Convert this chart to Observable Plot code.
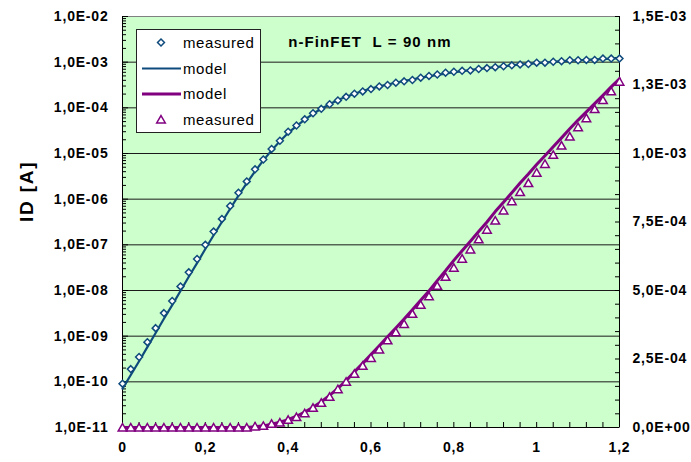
<!DOCTYPE html>
<html><head><meta charset="utf-8">
<script src="https://cdn.jsdelivr.net/npm/d3@7"></script>
<script src="https://cdn.jsdelivr.net/npm/@observablehq/plot@0.6"></script>
<style>
body{margin:0;background:#fff;}
</style></head><body><div id="chart"></div>
<script>
// Gate voltage (V)
const vg = [0,0.02,0.04,0.06,0.08,0.1,0.12,0.14,0.16,0.18,0.2,0.22,0.24,0.26,0.28,0.3,0.32,0.34,0.36,0.38,0.4,0.42,0.44,0.46,0.48,0.5,0.52,0.54,0.56,0.58,0.6,0.62,0.64,0.66,0.68,0.7,0.72,0.74,0.76,0.78,0.8,0.82,0.84,0.86,0.88,0.9,0.92,0.94,0.96,0.98,1,1.02,1.04,1.06,1.08,1.1,1.12,1.14,1.16,1.18,1.2];
// Log-axis series (A)
const blueMeasured = [9.1e-11,1.9e-10,3.5e-10,7.4e-10,1.5e-9,3.2e-9,5.9e-9,1.23e-8,2.5e-8,4.9e-8,1.0e-7,1.95e-7,3.7e-7,7.1e-7,1.38e-6,2.45e-6,4.5e-6,7.4e-6,1.26e-5,1.9e-5,3.0e-5,4.1e-5,5.6e-5,7.6e-5,9.5e-5,1.2e-4,1.45e-4,1.74e-4,2.04e-4,2.29e-4,2.57e-4,2.95e-4,3.16e-4,3.55e-4,3.8e-4,4.07e-4,4.57e-4,5.0e-4,5.37e-4,5.89e-4,6.17e-4,6.46e-4,6.6e-4,7.08e-4,7.41e-4,7.76e-4,8.13e-4,8.51e-4,8.91e-4,9.12e-4,9.77e-4,9.77e-4,1.02e-3,1.05e-3,1.10e-3,1.10e-3,1.12e-3,1.12e-3,1.20e-3,1.20e-3,1.20e-3];
const blueModel = [7.1e-11,1.41e-10,2.82e-10,5.75e-10,1.17e-9,2.40e-9,4.79e-9,9.77e-9,2.0e-8,3.98e-8,8.13e-8,1.62e-7,3.16e-7,6.17e-7,1.20e-6,2.24e-6,4.07e-6,7.08e-6,1.17e-5,1.86e-5,2.82e-5,3.98e-5,5.50e-5,7.41e-5,9.55e-5,1.20e-4,1.48e-4,1.74e-4,2.04e-4,2.34e-4,2.63e-4,2.95e-4,3.24e-4,3.55e-4,3.89e-4,4.17e-4,4.57e-4,4.90e-4,5.25e-4,5.62e-4,6.03e-4,6.31e-4,6.76e-4,7.08e-4,7.41e-4,7.76e-4,8.13e-4,8.51e-4,8.91e-4,9.12e-4,9.55e-4,9.77e-4,1.02e-3,1.05e-3,1.07e-3,1.10e-3,1.12e-3,1.15e-3,1.17e-3,1.20e-3,1.23e-3];
// Linear-axis series (A)
const purpleMeasured = [0,0,0,0,0,0,0,0,0,0,0,0,0,0,0,0,0.004e-3,0.006e-3,0.0135e-3,0.018e-3,0.028e-3,0.038e-3,0.052e-3,0.072e-3,0.090e-3,0.112e-3,0.140e-3,0.167e-3,0.196e-3,0.225e-3,0.254e-3,0.285e-3,0.318e-3,0.348e-3,0.378e-3,0.415e-3,0.448e-3,0.479e-3,0.517e-3,0.550e-3,0.583e-3,0.616e-3,0.650e-3,0.687e-3,0.722e-3,0.755e-3,0.792e-3,0.826e-3,0.859e-3,0.892e-3,0.930e-3,0.962e-3,0.995e-3,1.029e-3,1.062e-3,1.096e-3,1.129e-3,1.162e-3,1.195e-3,1.227e-3,1.262e-3];
const purpleModel = [0,0,0,0,0,0,0,0,0,0,0,0,0,0,0,0,0.003e-3,0.006e-3,0.012e-3,0.019e-3,0.029e-3,0.041e-3,0.056e-3,0.074e-3,0.094e-3,0.117e-3,0.143e-3,0.171e-3,0.203e-3,0.234e-3,0.266e-3,0.298e-3,0.331e-3,0.363e-3,0.396e-3,0.430e-3,0.464e-3,0.498e-3,0.536e-3,0.572e-3,0.610e-3,0.645e-3,0.680e-3,0.715e-3,0.750e-3,0.788e-3,0.822e-3,0.857e-3,0.892e-3,0.925e-3,0.960e-3,0.992e-3,1.025e-3,1.057e-3,1.090e-3,1.122e-3,1.152e-3,1.182e-3,1.212e-3,1.243e-3,1.273e-3];

const leftTicks = [1e-11,1e-10,1e-9,1e-8,1e-7,1e-6,1e-5,1e-4,1e-3,1e-2];
const leftTickLabels = ["1,0E-11","1,0E-10","1,0E-09","1,0E-08","1,0E-07","1,0E-06","1,0E-05","1,0E-04","1,0E-03","1,0E-02"];
const rightTicks = [0,2.5e-4,5e-4,7.5e-4,1e-3,1.25e-3,1.5e-3];
const rightTickLabels = ["0,0E+00","2,5E-04","5,0E-04","7,5E-04","1,0E-03","1,3E-03","1,5E-03"];
const xTicks = [0,0.2,0.4,0.6,0.8,1,1.2];
const xTickLabels = ["0","0,2","0,4","0,6","0,8","1","1,2"];
const titleText = "n-FinFET  L = 90 nm";
const yLabelText = "ID [A]";
const legendLabels = ["measured","model","model","measured"];

const BLUE = "#0f4a7c", PURPLE = "#800080";
const RMAX = 1.5e-3, LOGMIN = -11, LOGSPAN = 9;
// map right (linear) axis values into the left (log) scale
const toLeft = v => Math.pow(10, LOGMIN + LOGSPAN * v / RMAX);

const blueMeasRows = vg.map((x, i) => ({x, y: blueMeasured[i]}));
const blueModelRows = vg.map((x, i) => ({x, y: blueModel[i]}));
const purpMeasRows = vg.map((x, i) => ({x, y: toLeft(purpleMeasured[i])}));
const purpModelRows = vg.map((x, i) => ({x, y: toLeft(purpleModel[i])}));

const leftMinor = [];
for (let d = -11; d < -2; d++) for (let k = 2; k <= 9; k++) leftMinor.push(k * Math.pow(10, d));
const rightMinor = d3.range(0, 31).map(i => toLeft(i * 5e-5));
const xMinor = d3.range(0, 31).map(i => i * 0.04);

const W = 691, H = 462, ML = 122, MR = 72, MT = 16, MB = 35;
const PW = W - ML - MR, PH = H - MT - MB;

function legendMark() {
  const g = d3.create("svg:g");
  g.append("rect").attr("x", 136.5).attr("y", 29.5).attr("width", 124).attr("height", 103)
    .attr("fill", "white").attr("stroke", "#222").attr("stroke-width", 1);
  const rows = [42.5, 68.5, 94, 119.5];
  g.append("path").attr("d", d3.symbol(d3.symbolDiamond2, Math.PI * 3.1 * 3.1)())
    .attr("transform", `translate(161,${rows[0]})`).attr("fill", "white").attr("stroke", BLUE).attr("stroke-width", 1.5);
  g.append("line").attr("x1", 142).attr("x2", 181).attr("y1", rows[1]).attr("y2", rows[1]).attr("stroke", BLUE).attr("stroke-width", 2.2);
  g.append("line").attr("x1", 142).attr("x2", 181).attr("y1", rows[2]).attr("y2", rows[2]).attr("stroke", PURPLE).attr("stroke-width", 3);
  g.append("path").attr("d", d3.symbol(d3.symbolTriangle, Math.PI * 3.2 * 3.2)())
    .attr("transform", `translate(161,${rows[3] + 1})`).attr("fill", "white").attr("stroke", PURPLE).attr("stroke-width", 1.5);
  legendLabels.forEach((t, i) => {
    g.append("text").attr("x", 183).attr("y", rows[i]).attr("dy", "0.35em")
      .attr("text-anchor", "start")
      .attr("font-size", 15).attr("fill", "#000").attr("class", "lg").text(t);
  });
  return g.node();
}

const chart = Plot.plot({
  width: W, height: H,
  marginLeft: ML, marginRight: MR, marginTop: MT, marginBottom: MB,
  x: {domain: [0, 1.2], axis: null},
  y: {type: "log", domain: [1e-11, 1e-2], axis: null},
  style: {fontFamily: "'Liberation Sans', Arial, sans-serif", background: "white", overflow: "visible"},
  marks: [
    Plot.frame({fill: "#ccffcc", stroke: null}),
    Plot.ruleY(leftTicks.slice(1, -1), {stroke: "#1a1a1a", strokeWidth: 1}),
    Plot.frame({stroke: "#808080", strokeWidth: 1}),
    Plot.ruleX([0, 1.2], {stroke: "#000", strokeWidth: 1}),
    Plot.ruleY([1e-11], {stroke: "#000", strokeWidth: 1}),
    // inward ticks
    Plot.tickY(leftMinor, {y: d => d, insetRight: PW - 4, stroke: "#000"}),
    Plot.tickY(leftTicks, {y: d => d, insetRight: PW - 6, stroke: "#000"}),
    Plot.tickY(rightMinor, {y: d => d, insetLeft: PW - 4, stroke: "#000"}),
    Plot.tickX(xMinor, {x: d => d, insetTop: PH - 5, stroke: "#000"}),
    // series
    Plot.line(blueModelRows, {x: "x", y: "y", stroke: BLUE, strokeWidth: 2.2}),
    Plot.line(purpModelRows, {x: "x", y: "y", stroke: PURPLE, strokeWidth: 3}),
    Plot.dot(blueMeasRows, {x: "x", y: "y", symbol: "diamond2", r: 3.1, fill: "white", stroke: BLUE, strokeWidth: 1.5}),
    Plot.dot(purpMeasRows, {x: "x", y: "y", symbol: "triangle", r: 3.2, fill: "white", stroke: PURPLE, strokeWidth: 1.5, dy: 1}),
    // tick labels
    Plot.text(leftTicks, {y: d => d, frameAnchor: "left", dx: -14, textAnchor: "end", text: (d, i) => leftTickLabels[i], fontSize: 14, fontWeight: "bold", fill: "#000"}),
    Plot.text(rightTicks, {y: d => toLeft(d), frameAnchor: "right", dx: 13, textAnchor: "start", text: (d, i) => rightTickLabels[i], fontSize: 14, fontWeight: "bold", fill: "#000"}),
    Plot.text(xTicks, {x: d => d, frameAnchor: "bottom", dy: 24, text: (d, i) => xTickLabels[i], fontSize: 14, fontWeight: "bold", fill: "#000"}),
    // title & axis label
    Plot.text([titleText], {frameAnchor: "top", dy: 19.5, dx: -1, text: d => d, fontSize: 15, fontWeight: "bold", fill: "#000"}),
    Plot.text([yLabelText], {frameAnchor: "left", dx: -96, text: d => d, rotate: -90, fontSize: 19, fontWeight: "bold", fill: "#000"}),
    legendMark
  ]
});
document.getElementById("chart").appendChild(chart);

// letter spacing tweaks to match the wider text of the original
chart.querySelectorAll("text").forEach(t => {
  const s = t.textContent;
  if (s === titleText) { t.style.letterSpacing = "1.1px"; t.style.whiteSpace = "pre"; }
  else if (s === yLabelText) { t.style.letterSpacing = "1.8px"; t.style.whiteSpace = "pre"; }
  else if (t.getAttribute("class") === "lg") { t.style.letterSpacing = "0.6px"; }
  else { t.style.letterSpacing = "0.8px"; }
});
</script>
</body></html>
